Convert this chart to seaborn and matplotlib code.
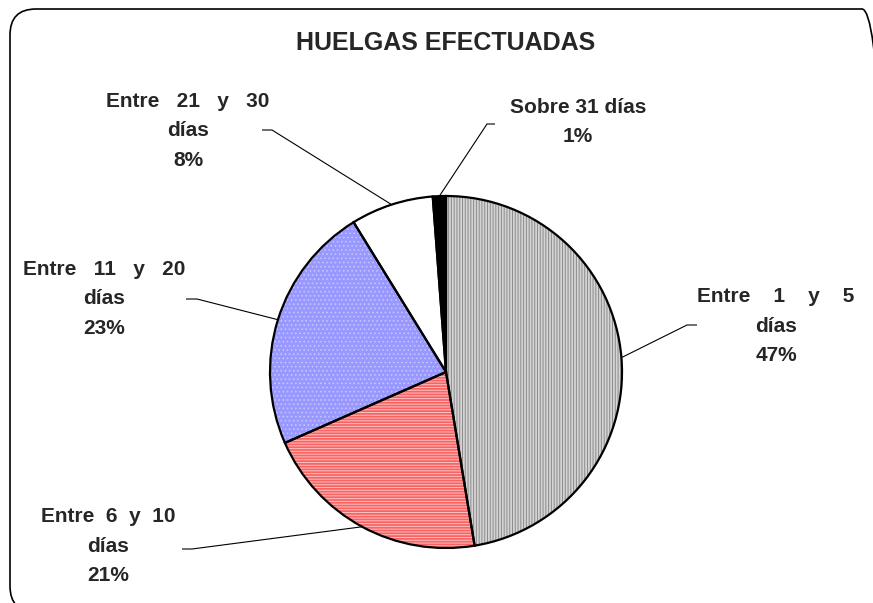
import numpy as np
import matplotlib
matplotlib.use("Agg")
import matplotlib.pyplot as plt
import seaborn as sns
from matplotlib.patches import FancyBboxPatch

# Datos de la torta
categorias = ["Entre 1 y 5 días", "Entre 6 y 10 días", "Entre 11 y 20 días",
              "Entre 21 y 30 días", "Sobre 31 días"]
valores = [47.4, 21.0, 22.8, 7.6, 1.2]
etiquetas = ["Entre    1    y    5\ndías", "Entre  6  y  10\ndías",
             "Entre   11   y   20\ndías", "Entre   21   y   30\ndías",
             "Sobre 31 días"]
titulo = "HUELGAS EFECTUADAS"

# Estilos de relleno
colores = ["#d4d4d4", "#f86464", "#9898ff", "#ffffff", "#000000"]
tramas = ["||||||", "------", "....", "", ""]
color_trama = ["#8a8a8a", "#ffc0c0", "#c4c4ff", "#ffffff", "#000000"]

sns.set_style("white")
plt.rcParams["font.family"] = ["Liberation Sans", "DejaVu Sans"]
plt.rcParams["hatch.linewidth"] = 0.7

W, H = 873, 603
fig = plt.figure(figsize=(W / 100, H / 100), dpi=100)
ax = fig.add_axes([0, 0, 1, 1])

centro = (446, H - 372)
radio = 176

# relleno con tramas (sin borde)
cunas, _ = ax.pie(valores, colors=colores, hatch=tramas, startangle=90,
                  counterclock=False, center=centro, radius=radio,
                  wedgeprops=dict(linewidth=0))
for w, hc in zip(cunas, color_trama):
    w.set_edgecolor(hc)
    w.set_linewidth(0)

# bordes negros
ax.pie(valores, startangle=90, counterclock=False, center=centro, radius=radio,
       wedgeprops=dict(facecolor="none", edgecolor="black", linewidth=1.6))

ax.set_xlim(0, W)
ax.set_ylim(0, H)
ax.set_aspect("auto")
ax.axis("off")

# posiciones de etiquetas (centro de texto) y lineas guia (codo, final)
pos_texto = [(776, 326), (108, 546), (104, 299), (188, 131), (578, 122)]
codos = [((687, 325), (697, 325)), ((192, 549), (182, 549)),
         ((197, 299), (186, 299)), ((272, 130), (262, 130)),
         ((487, 124), (495, 124))]

for w, etq, val, (tx, ty), (codo, fin) in zip(cunas, etiquetas, valores,
                                              pos_texto, codos):
    ang = np.deg2rad((w.theta1 + w.theta2) / 2)
    ex = centro[0] + radio * np.cos(ang)
    ey = centro[1] + radio * np.sin(ang)
    ax.plot([ex, codo[0], fin[0]], [ey, H - codo[1], H - fin[1]],
            color="black", lw=0.8, solid_capstyle="butt")
    ax.text(tx, H - ty, f"{etq}\n{val:.0f}%", ha="center", va="center",
            multialignment="center", fontsize=15, fontweight="bold",
            linespacing=1.68)

ax.text(446, H - 43, titulo, ha="center", va="center", fontsize=18,
        fontweight="bold")

# marco redondeado
marco = FancyBboxPatch((10, H - 612), 878, 603,
                       boxstyle="round,pad=0,rounding_size=26",
                       fill=False, edgecolor="black", linewidth=1.2,
                       clip_on=False)
ax.add_patch(marco)

fig.savefig("out.png", dpi=100)
